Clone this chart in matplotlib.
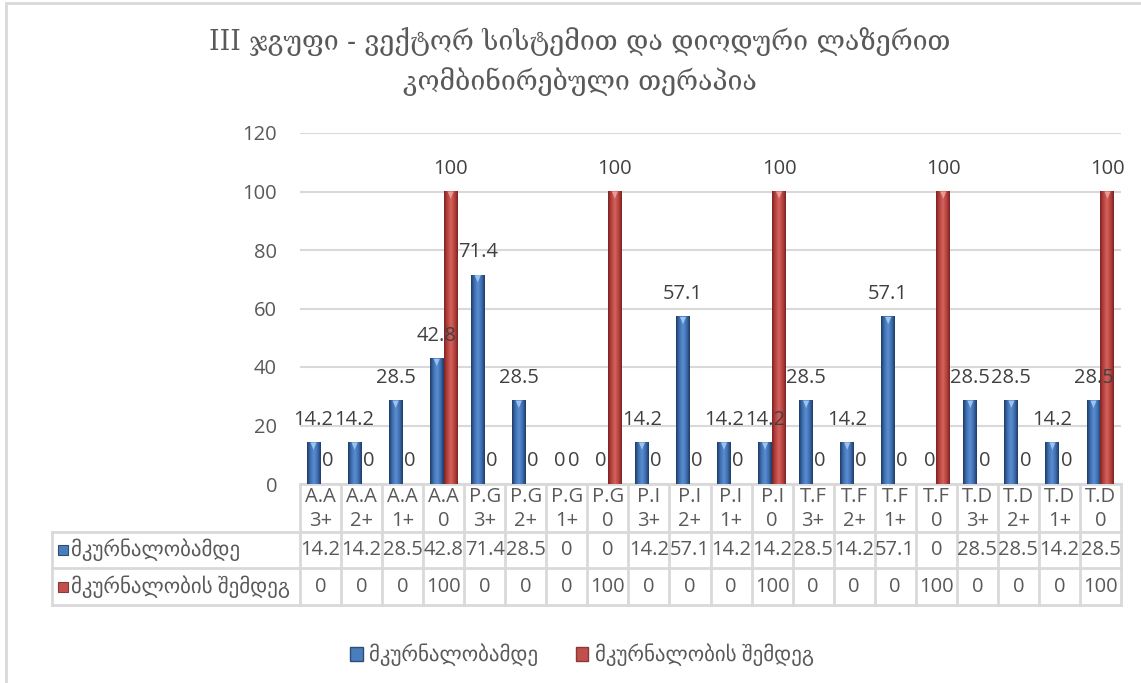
import matplotlib.pyplot as plt
import numpy as np
from matplotlib.colors import LinearSegmentedColormap
from matplotlib.patches import Rectangle
from matplotlib.transforms import blended_transform_factory

title = "III ჯგუფი - ვექტორ სისტემით და დიოდური ლაზერით\nკომბინირებული თერაპია"
categories = [
    "A.A\n3+", "A.A\n2+", "A.A\n1+", "A.A\n0",
    "P.G\n3+", "P.G\n2+", "P.G\n1+", "P.G\n0",
    "P.I\n3+", "P.I\n2+", "P.I\n1+", "P.I\n0",
    "T.F\n3+", "T.F\n2+", "T.F\n1+", "T.F\n0",
    "T.D\n3+", "T.D\n2+", "T.D\n1+", "T.D\n0",
]
before_name = "მკურნალობამდე"
after_name = "მკურნალობის შემდეგ"
before = [14.2, 14.2, 28.5, 42.8, 71.4, 28.5, 0, 0, 14.2, 57.1, 14.2, 14.2,
          28.5, 14.2, 57.1, 0, 28.5, 28.5, 14.2, 28.5]
after = [0, 0, 0, 100, 0, 0, 0, 100, 0, 0, 0, 100,
         0, 0, 0, 100, 0, 0, 0, 100]
yticks = [0, 20, 40, 60, 80, 100, 120]

FONT = ["Open Sans", "DejaVu Sans"]
plt.rcParams["font.family"] = FONT
TXT = "#595959"
GRID = "#d9d9d9"
FS = 14.5

W, H = 1141, 683
fig = plt.figure(figsize=(W / 100, H / 100), dpi=100)
ax = fig.add_axes([300 / W, 1 - 484 / H, 821 / W, 351 / H])

n = len(categories)
x = np.arange(n)
bw = 0.34

blue_cmap = LinearSegmentedColormap.from_list("b", ["#1f3b66", "#3f70b2", "#5b8dd2", "#3f70b2", "#1f3b66"])
red_cmap = LinearSegmentedColormap.from_list("r", ["#7a2523", "#bb433f", "#d3625e", "#bb433f", "#7a2523"])
grad = np.linspace(0, 1, 64).reshape(1, -1)


def shaded_bars(xs, vals, cmap, tip):
    bars = ax.bar(xs, vals, bw, color="none", edgecolor="none", zorder=3)
    for b in bars:
        h = b.get_height()
        if h <= 0:
            continue
        x0 = b.get_x()
        ax.imshow(grad, cmap=cmap, extent=(x0, x0 + bw, 0, h), aspect="auto", zorder=3)
        ax.fill([x0 + bw * 0.28, x0 + bw * 0.72, x0 + bw * 0.5], [h, h, h - 2.5],
                color=tip, zorder=4, lw=0)
    return bars


b1 = shaded_bars(x - bw / 2, before, blue_cmap, "#9cc3ec")
b2 = shaded_bars(x + bw / 2, after, red_cmap, "#e89a97")

for xs, vals in ((x - bw / 2, before), (x + bw / 2, after)):
    for xi, v in zip(xs, vals):
        ax.annotate(f"{v:g}", (xi, v), xytext=(0, 16.5), textcoords="offset points",
                    ha="center", va="center", fontsize=FS, color="#404040", zorder=5)

ax.set_xlim(-0.5, n - 0.5)
ax.set_ylim(0, 120)
ax.set_yticks(yticks)
ax.set_xticks([])
ax.tick_params(axis="y", length=0, pad=16.5, labelsize=FS, labelcolor=TXT)
ax.grid(axis="y", color=GRID, lw=1.5, zorder=0)
for s in ax.spines.values():
    s.set_visible(False)

# data table below the axis
tr = blended_transform_factory(ax.transData, ax.transAxes)
row_y = [0, -48 / 351, -84 / 351, -121 / 351]
left_ax = (52 - 300) / 821
lkw = dict(color=GRID, lw=2, clip_on=False, zorder=1)
for i in range(n + 1):
    ax.plot([i - 0.5, i - 0.5], [row_y[0], row_y[3]], transform=tr, **lkw)
for yy in row_y:
    ax.plot([left_ax if yy < 0 else 0, 1], [yy, yy], transform=ax.transAxes, **lkw)
ax.plot([left_ax, left_ax], [row_y[1], row_y[3]], transform=ax.transAxes, **lkw)

for i, lab in enumerate(categories):
    ax.text(i, (row_y[0] + row_y[1]) / 2 - 1 / 351, lab, transform=tr, ha="center",
            va="center", fontsize=FS, color=TXT, linespacing=1.3)
    ax.text(i, (row_y[1] + row_y[2]) / 2, f"{before[i]:g}", transform=tr, ha="center",
            va="center", fontsize=FS, color=TXT)
    ax.text(i, (row_y[2] + row_y[3]) / 2, f"{after[i]:g}", transform=tr, ha="center",
            va="center", fontsize=FS, color=TXT)

for k, (name, col, edge) in enumerate(((before_name, "#4a7ebb", "#2c4d75"),
                                       (after_name, "#c0504d", "#8c3836"))):
    yc = (row_y[k + 1] + row_y[k + 2]) / 2
    ax.add_patch(Rectangle((left_ax + 6 / 821, yc - 5 / 351), 10 / 821, 10 / 351,
                           transform=ax.transAxes, facecolor=col, edgecolor=edge,
                           lw=0.8, clip_on=False))
    ax.text(left_ax + 19 / 821, yc, name, transform=ax.transAxes, ha="left", va="center",
            fontsize=15, color=TXT)

fig.suptitle(title, x=0.508, y=1 - 27 / H, va="top", fontsize=19.2, color=TXT,
             linespacing=1.5, family=["DejaVu Serif", "DejaVu Sans"])

handles = [Rectangle((0, 0), 1, 1, facecolor="#4a7ebb", edgecolor="#2c4d75"),
           Rectangle((0, 0), 1, 1, facecolor="#c0504d", edgecolor="#8c3836")]
fig.legend(handles, [before_name, after_name], loc="center", ncol=2,
           bbox_to_anchor=(582 / W, 1 - 655 / H), frameon=False, fontsize=15,
           labelcolor=TXT, handlelength=0.6, handleheight=0.6, handletextpad=0.3,
           columnspacing=1.8)

fig.patches.append(Rectangle((6 / W, -0.1), 2, 1.1 - 3 / H, transform=fig.transFigure,
                             facecolor="none", edgecolor=GRID, lw=2))

fig.savefig("out.png", dpi=100)
